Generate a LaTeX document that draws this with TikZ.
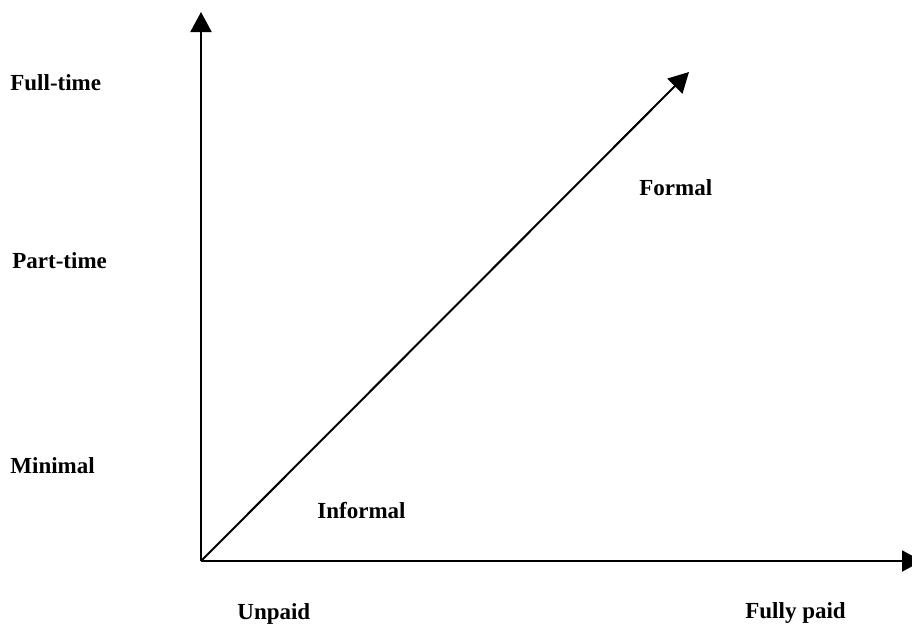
\documentclass[tikz,border=0pt]{standalone}
\usepackage{fontspec}
\setmainfont{Liberation Serif}
\usetikzlibrary{arrows.meta}
\begin{document}
\begin{tikzpicture}[x=0.5pt,y=-0.5pt,
  axis/.style={line width=1pt,-{Triangle[length=10pt,width=10.5pt]}},
  lbl/.style={anchor=west,inner sep=0pt,font=\fontsize{11.5pt}{13pt}\selectfont\bfseries}]
\useasboundingbox (0,0) rectangle (912,628);
\coordinate (o) at (201,561);
\coordinate (ytip) at (201,12);
\coordinate (xtip) at (922,561);
\coordinate (dtip) at (689,72);
\draw[axis] (o) -- (ytip);
\draw[axis] (o) -- (xtip);
\draw[axis] (o) -- (dtip);
\node[lbl] (ft) at (10,83) {Full-time};
\node[lbl] (pt) at (12,261) {Part-time};
\node[lbl] (mn) at (10,466) {Minimal};
\node[lbl] (fo) at (639,188) {Formal};
\node[lbl] (in) at (317,511) {Informal};
\node[lbl] (up) at (237,614) {Unpaid};
\node[lbl] (fp) at (745,613) {Fully paid};
\end{tikzpicture}
\end{document}
